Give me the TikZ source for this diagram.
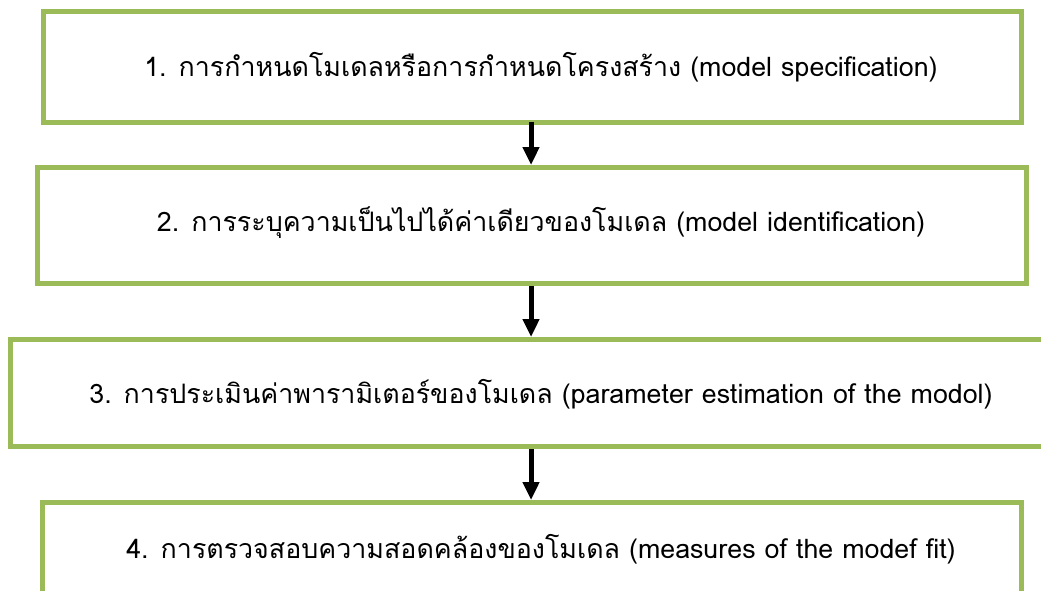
\documentclass[tikz,border=0pt]{standalone}
\usepackage{fontspec}
\newfontfamily\thaifont[Script=Thai]{Loma}
\usetikzlibrary{arrows.meta}
\definecolor{boxgreen}{RGB}{155,187,89}
\begin{document}
\begin{tikzpicture}[x=1pt,y=-1pt,
  stepbox/.style={draw=boxgreen, line width=5pt, rectangle, inner sep=0pt},
  steptext/.style={anchor=base, inner sep=0pt, font=\thaifont\fontsize{26.8}{30}\selectfont},
  flow/.style={line width=5pt, -{Triangle[width=16pt,length=18pt]}}]
\useasboundingbox (0,0) rectangle (1041,590);
\clip (0,0) rectangle (1041,590);
\fill[white] (0,0) rectangle (1041,590);
\node[stepbox, minimum width=978pt, minimum height=111pt] (b1) at (532,66.5) {};
\node[stepbox, minimum width=989pt, minimum height=116pt] (b2) at (532,225.5) {};
\node[stepbox, minimum width=1050pt, minimum height=107pt] (b3) at (535.5,393) {};
\node[stepbox, minimum width=979pt, minimum height=110pt] (b4) at (532,557.5) {};
\node[steptext] (t1) at (541,76) {1. การกำหนดโมเดลหรือการกำหนดโครงสร้าง (model specification)};
\node[steptext] (t2) at (541,231) {2. การระบุความเป็นไปได้ค่าเดียวของโมเดล (model identification)};
\node[steptext] (t3) at (541,403) {3. การประเมินค่าพารามิเตอร์ของโมเดล (parameter estimation of the modol)};
\node[steptext] (t4) at (541,558) {4. การตรวจสอบความสอดคล้องของโมเดล (measures of the modef fit)};
\coordinate (a1) at (531,122);
\coordinate (a2) at (531,286);
\coordinate (a3) at (531,449);
\draw[flow] (a1) -- (a1 |- b2.north);
\draw[flow] (a2) -- (a2 |- b3.north);
\draw[flow] (a3) -- (a3 |- b4.north);
\end{tikzpicture}
\end{document}
